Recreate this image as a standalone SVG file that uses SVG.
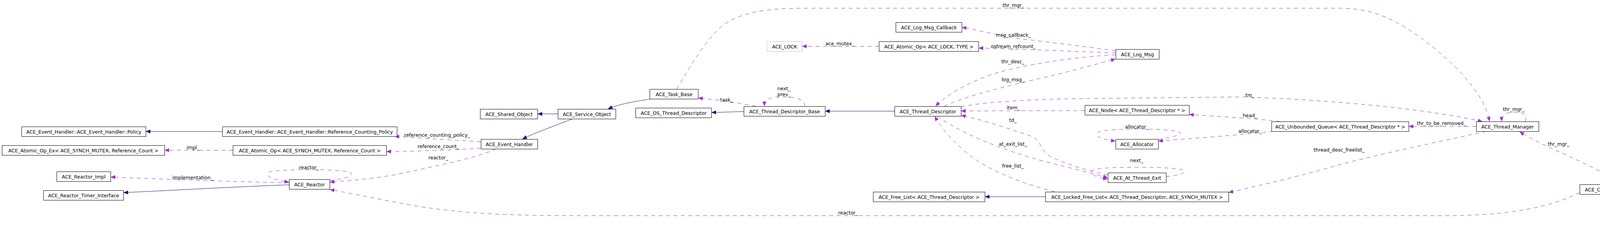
<svg xmlns="http://www.w3.org/2000/svg" width="4720" height="581" viewBox="0 0 4720 581">
<style>
.n rect{fill:#fff;stroke:#000;stroke-width:1}
.n text,.lb text{font-family:"DejaVu Sans","Liberation Sans",sans-serif;font-size:12.4px;fill:#000;text-anchor:middle}
.n.g rect{stroke:#bfbfbf}
.n.f rect{fill:#bfbfbf}
.i{fill:none;stroke:#191970;stroke-width:1}
.d{fill:none;stroke:#9a32cd;stroke-width:1;stroke-dasharray:10,9}
.i{marker-end:url(#an)}
.d{marker-end:url(#ap)}
.nm{marker-end:none}
</style>
<defs>
<marker id="an" viewBox="0 0 12 10" refX="12" refY="5" markerWidth="12" markerHeight="10" markerUnits="userSpaceOnUse" orient="auto"><path d="M0,0 L12,5 L0,10 z" fill="#191970" stroke="none"/></marker>
<marker id="ap" viewBox="0 0 12 10" refX="12" refY="5" markerWidth="12" markerHeight="10" markerUnits="userSpaceOnUse" orient="auto"><path d="M0,0 L12,5 L0,10 z" fill="#9a32cd" stroke="none"/></marker>
</defs>
<rect x="0" y="0" width="4720" height="581" fill="#fff"/>

<g id="connectors">
<path class="i" d="M569,336.5 L373,336.5"/>
<path class="d" d="M596,384.5 L421,384.5"/>
<path class="d" d="M740,468 C600,465 450,460 283,453"/>
<path class="i" d="M740,473 C600,478 450,487 316,493"/>
<path class="d" d="M844,462 C885,458 912,448 895,441 C870,432 720,432 690,440 C672,448 700,462 740,466"/>
<path class="d" d="M1270,381 C1220,405 1100,428 1013,447 C950,458 890,463 844,466"/>
<path class="d" d="M1231,363 C1180,360 1100,355 1010,349"/>
<path class="d" d="M1231,379 C1180,383 1080,387 989,388"/>
<path class="i" d="M1428,291.5 L1376,291.5"/>
<path class="i" d="M1466,304 C1440,315 1380,335 1337,356"/>
<path class="i" d="M1663,254 C1620,260 1580,268 1556,279"/>
<path class="d" d="M1935,272 C1900,265 1840,255 1787,251"/>
<path class="i" d="M1904,285.5 L1821,288"/>
<path class="i" d="M2290,284.5 L2112,284.5"/>
<path class="d" d="M2060,272 C2060,255 2040,248 2008,248 C1975,248 1957,252 1957,272"/>
<path class="d" d="M2250,118.5 L2053,118.5"/>
<path class="d" d="M2856,130 C2800,122 2700,110 2620,100 C2560,92 2500,76 2462,70"/>
<path class="d" d="M2856,135 C2780,133 2600,125 2505,123"/>
<path class="d" d="M2856,140 C2750,146 2620,165 2540,190 C2470,215 2420,245 2395,272"/>
<path class="d" d="M2417,272 C2470,245 2600,215 2700,192 C2780,172 2830,158 2856,151"/>
<path class="d" d="M2777,283 L2460,284"/>
<path class="d" d="M2460,274 C2500,262 2650,253 2800,252 L3180,248 C3400,255 3650,278 3795,311"/>
<path class="d" d="M2836,448 C2800,440 2720,420 2680,395 C2660,375 2665,355 2630,345 C2570,325 2510,305 2460,295"/>
<path class="d" d="M2400,297 C2450,335 2550,380 2680,415 C2750,432 2800,445 2836,455"/>
<path class="d" d="M2700,491 C2640,475 2560,450 2500,410 C2450,375 2410,330 2393,297"/>
<path class="d" d="M2985,452 C3025,448 3045,440 3025,434 C2990,426 2830,426 2800,434 C2782,442 2805,455 2836,458"/>
<path class="d" d="M2965,357 C3010,350 3035,342 3015,337 C2980,328 2850,328 2815,337 C2795,345 2815,357 2856,361"/>
<path class="d" d="M3277,311 C3230,305 3150,300 3044,293"/>
<path class="d" d="M3260,336 C3200,343 3050,355 2965,361"/>
<path class="i" d="M2676,503.5 L2521,503.5"/>
<path class="d" d="M3779,323.5 L3606,323.5"/>
<path class="d" d="M3805,336 C3700,360 3500,400 3400,430 C3300,458 3200,480 3145,493"/>
<path class="d" d="M3905,311 C3912,292 3895,287 3875,287 C3855,287 3843,295 3845,311"/>
<path class="d" d="M1733,228 C1760,180 1800,110 1850,65 C1900,30 1960,22 2050,21 L3433,21 C3510,22 3560,45 3620,85 C3700,140 3800,230 3813,311"/>
<path class="d" d="M4163,472 C4100,440 4030,405 3990,388 C3950,370 3910,350 3890,337"/>
<path class="i" d="M4383,484.5 L4332,484.5"/>
<path class="d" d="M4044,493 C3980,525 3880,552 3700,552 L1500,552 C1300,552 1200,548 1063,527 C980,512 900,495 844,485"/>
</g>

<g class="lb" id="edge-labels">
<text x="494" y="381.5">impl_</text>
<text x="493" y="458.5">implementation_</text>
<text x="791" y="432.5">reactor_</text>
<text x="1122" y="407.5">reactor_</text>
<text x="1119" y="349.5">reference_counting_policy_</text>
<text x="1122" y="378.5">reference_count_</text>
<text x="1860" y="259.5">task_</text>
<text x="2007" y="231">next_</text>
<text x="2007" y="246">prev_</text>
<text x="2150" y="115.5">ace_mutex_</text>
<text x="2594" y="93.5">msg_callback_</text>
<text x="2594" y="122.5">ostream_refcount_</text>
<text x="2593" y="161.5">thr_desc_</text>
<text x="2593" y="207.5">log_msg_</text>
<text x="2594" y="279.5">item_</text>
<text x="2593" y="311.5">td_</text>
<text x="2593" y="372.5">at_exit_list_</text>
<text x="2593" y="428.5">free_list_</text>
<text x="2594" y="17.5">thr_mgr_</text>
<text x="2910" y="328.5">allocator_</text>
<text x="2910" y="414.5">next_</text>
<text x="3200" y="247.5">tm_</text>
<text x="3200" y="299.5">head_</text>
<text x="3200" y="339.5">allocator_</text>
<text x="3428" y="387.5">thread_desc_freelist_</text>
<text x="3690" y="319.5">thr_to_be_removed_</text>
<text x="3875" y="283.5">thr_mgr_</text>
<text x="3990" y="372.5">thr_mgr_</text>
<text x="2171" y="548.5">reactor_</text>
</g>

<g id="n_policy" class="n"><rect x="55.5" y="324.5" width="318" height="25"/><text x="214.5" y="341.5">ACE_Event_Handler::ACE_Event_Handler::Policy</text></g>
<g id="n_atomic_op_ex" class="n"><rect x="5.5" y="372.5" width="416" height="25"/><text x="213.5" y="389.5">ACE_Atomic_Op_Ex&lt; ACE_SYNCH_MUTEX, Reference_Count &gt;</text></g>
<g id="n_reactor_impl" class="n"><rect x="145.5" y="439.5" width="138" height="25"/><text x="214.5" y="456.5">ACE_Reactor_Impl</text></g>
<g id="n_reactor_timer_interface" class="n"><rect x="111.5" y="487.5" width="205" height="25"/><text x="214" y="504.5">ACE_Reactor_Timer_Interface</text></g>
<g id="n_ref_counting_policy" class="n"><rect x="569.5" y="324.5" width="447" height="25"/><text x="793" y="341.5">ACE_Event_Handler::ACE_Event_Handler::Reference_Counting_Policy</text></g>
<g id="n_atomic_op" class="n"><rect x="596.5" y="372.5" width="393" height="25"/><text x="793" y="389.5">ACE_Atomic_Op&lt; ACE_SYNCH_MUTEX, Reference_Count &gt;</text></g>
<g id="n_reactor" class="n"><rect x="740.5" y="459.5" width="104" height="25"/><text x="792.5" y="476.5">ACE_Reactor</text></g>
<g id="n_shared_object" class="n"><rect x="1229.5" y="279.5" width="147" height="25"/><text x="1303" y="296.5">ACE_Shared_Object</text></g>
<g id="n_service_object" class="n"><rect x="1428.5" y="279.5" width="148" height="25"/><text x="1502.5" y="296.5">ACE_Service_Object</text></g>
<g id="n_event_handler" class="n"><rect x="1231.5" y="356.5" width="145" height="25"/><text x="1304" y="373.5">ACE_Event_Handler</text></g>
<g id="n_task_base" class="n"><rect x="1663.5" y="228.5" width="124" height="25"/><text x="1725.5" y="245.5">ACE_Task_Base</text></g>
<g id="n_os_thread_descriptor" class="n"><rect x="1627.5" y="276.5" width="194" height="25"/><text x="1724.5" y="293.5">ACE_OS_Thread_Descriptor</text></g>
<g id="n_thread_descriptor_base" class="n"><rect x="1904.5" y="272.5" width="208" height="25"/><text x="2008.5" y="289.5">ACE_Thread_Descriptor_Base</text></g>
<g id="n_thread_descriptor" class="n"><rect x="2290.5" y="272.5" width="170" height="25"/><text x="2375.5" y="289.5">ACE_Thread_Descriptor</text></g>
<g id="n_log_msg_callback" class="n"><rect x="2293.5" y="57.5" width="169" height="25"/><text x="2378" y="74.5">ACE_Log_Msg_Callback</text></g>
<g id="n_atomic_op_lock" class="n"><rect x="2250.5" y="106.5" width="255" height="25"/><text x="2378" y="123.5">ACE_Atomic_Op&lt; ACE_LOCK, TYPE &gt;</text></g>
<g id="n_ace_lock" class="n g"><rect x="1963.5" y="106.5" width="90" height="25"/><text x="2008.5" y="123.5">ACE_LOCK</text></g>
<g id="n_log_msg" class="n"><rect x="2856.5" y="126.5" width="111" height="25"/><text x="2912" y="143.5">ACE_Log_Msg</text></g>
<g id="n_node" class="n"><rect x="2777.5" y="269.5" width="267" height="25"/><text x="2911" y="286.5">ACE_Node&lt; ACE_Thread_Descriptor * &gt;</text></g>
<g id="n_allocator" class="n"><rect x="2856.5" y="356.5" width="109" height="25"/><text x="2911" y="373.5">ACE_Allocator</text></g>
<g id="n_at_thread_exit" class="n"><rect x="2836.5" y="442.5" width="149" height="25"/><text x="2911" y="459.5">ACE_At_Thread_Exit</text></g>
<g id="n_free_list" class="n"><rect x="2235.5" y="491.5" width="286" height="25"/><text x="2378.5" y="508.5">ACE_Free_List&lt; ACE_Thread_Descriptor &gt;</text></g>
<g id="n_locked_free_list" class="n"><rect x="2676.5" y="491.5" width="469" height="25"/><text x="2911" y="508.5">ACE_Locked_Free_List&lt; ACE_Thread_Descriptor, ACE_SYNCH_MUTEX &gt;</text></g>
<g id="n_unbounded_queue" class="n"><rect x="3255.5" y="311.5" width="351" height="25"/><text x="3431" y="328.5">ACE_Unbounded_Queue&lt; ACE_Thread_Descriptor * &gt;</text></g>
<g id="n_thread_manager" class="n"><rect x="3779.5" y="311.5" width="160" height="25"/><text x="3859.5" y="328.5">ACE_Thread_Manager</text></g>
<g id="n_creation_strategy" class="n"><rect x="4044.5" y="472.5" width="288" height="25"/><text x="4188.5" y="489.5">ACE_Creation_Strategy&lt; SVC_HANDLER &gt;</text></g>
<g id="n_noop_creation_strategy" class="n f"><rect x="4383.5" y="472.5" width="332" height="25"/><text x="4549.5" y="489.5">ACE_NOOP_Creation_Strategy&lt; SVC_HANDLER &gt;</text></g>
</svg>
